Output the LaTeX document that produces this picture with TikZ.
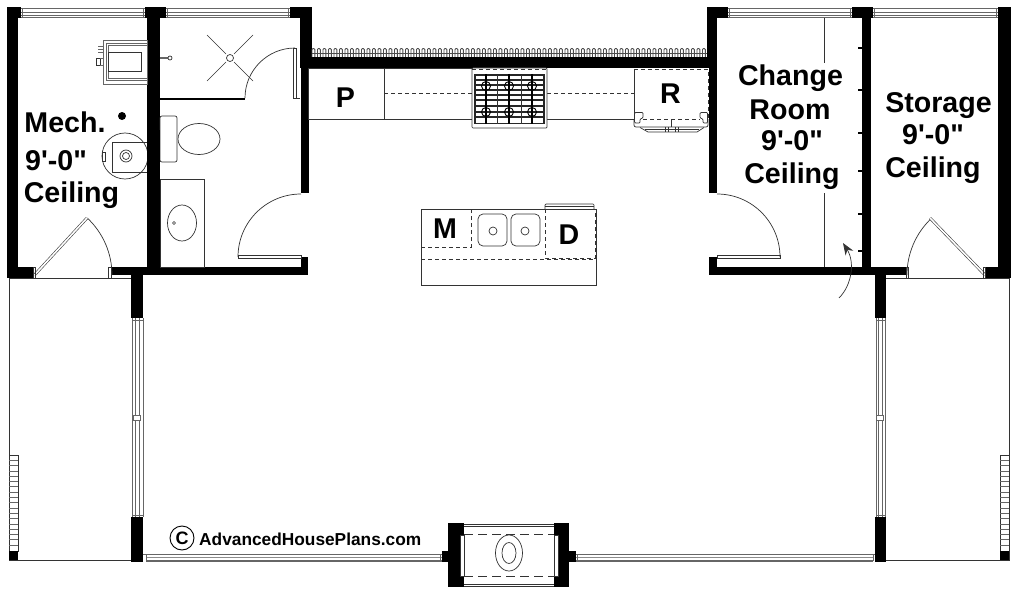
\documentclass[tikz,border=0pt]{standalone}
\usepackage{xcolor}
\usepackage{fontspec}
\newfontfamily\planfont{Liberation Sans}[Scale=1]
\usetikzlibrary{arrows.meta}

\begin{document}
\begin{tikzpicture}[x=1pt,y=-1pt,
  wall/.style={fill=black},
  fine/.style={draw=black!80,line width=0.7pt},
  glass/.style={draw=black!60,line width=0.8pt},
  hidden/.style={draw=black!80,line width=0.7pt,dash pattern=on 4pt off 3pt},
  leaf/.style={draw=black!75,double=white,double distance=1.6pt,line width=0.6pt},
  tag/.style={font=\planfont\bfseries\fontsize{28.6}{30}\selectfont,anchor=base,inner sep=0pt}]
\useasboundingbox (0,0) rectangle (1018,594);
\fill[white] (0,0) rectangle (1018,594);

% Porch outlines
\draw[fine] (9,278) -- (9,560) -- (132,560);
\draw[fine] (9,278) -- (132,278);
\draw[fine] (1009,278) -- (1009,560) -- (886,560);
\draw[fine] (886,278) -- (1009,278);

% Porch steps
\foreach \a/\b in {9/18,1000/1009}
{
  \draw[fine] (\a,455) rectangle (\b,551);
  \foreach \y in {460.3,465.6,...,548}
    \draw[glass] (\a,\y) -- (\b,\y);
  \fill[wall] (\a,551) rectangle (\b,560);
}

% Top windows
\foreach \a/\b in {21/145,166/290,728/852,873/998}
{
  \draw[glass] (\a,8) -- (\b,8);
  \draw[glass] (\a,12.5) -- (\b,12.5);
  \draw[glass] (\a,15) -- (\b,15);
  \draw[glass] (\a,17.5) -- (\b,17.5);
  \draw[glass] (\a+1.5,8) -- (\a+1.5,17.5);
  \draw[glass] (\b-1.5,8) -- (\b-1.5,17.5);
}

% Side windows
\foreach \a/\b/\c/\d in {132.5/135/139.5/143,876/878.5/882.5/885.5}
{
  \draw[glass] (\a,318) -- (\a,517);
  \draw[glass] (\b,318) -- (\b,517);
  \draw[glass] (\c,318) -- (\c,517);
  \draw[glass] (\d,318) -- (\d,517);
  \draw[glass] (\a,320.5) -- (\d,320.5);
  \draw[glass] (\a,515) -- (\d,515);
  \draw[glass,fill=white] (\b-2,415) rectangle (\c+0.5,420);
}

% Front windows
\foreach \a/\b in {146/442,576/873}
{
  \draw[glass,line width=0.6pt] (\a,554) -- (\b,554);
  \draw[glass,line width=1.6pt,draw=black!45] (\a,557.5) -- (\b,557.5);
  \draw[glass,line width=1.4pt] (\a,561) -- (\b,561);
}
\draw[glass] (143,554) -- (146,554) -- (146,561);
\draw[glass] (875,554) -- (873,554) -- (873,561);
\draw[glass] (440.5,554) -- (440.5,561);
\draw[glass] (577.5,554) -- (577.5,561);

% Walls
\foreach \a/\b/\c/\d in {7/7/18/278,7/7/21/18,7/267/33/278,145/7/166/18,147/7/160/275,
  112/267/308/275,131/275/143/318,131/517/143/562,290/7/312/18,301/7/309/193,300/7/311.5/68,
  301/257/308/275,308/57/717/68,707/7/728/18,709/7/717/193,707/7/717/57,709/257/717/275,709/267/906/275,
  852/7/873/18,862/7/871/275,875/275/886/318,875/517/886/562,986/267/1011/278,
  998/7/1011/278}
  \fill[wall] (\a,\b) rectangle (\c,\d);

% Backsplash
\draw[draw=black!70,line width=0.9pt] (312,53) -- (707,53);
\foreach \x in {312,317.5,...,704}
  \draw[draw=black!70,line width=0.9pt,rounded corners=1pt] (\x,57) -- (\x,48.5) -- (\x+2.8,48.5) -- (\x+2.8,57);

% Door swings
\draw[fine] (245,98) arc (180:270:50);
\draw[fine] (238,257) arc (180:270:63);
\draw[fine] (717,194) arc (270:360:63);
\draw[fine] (112,275) arc (0:-47:78);
\draw[fine] (907,275) arc (180:226:78);
\draw[leaf] (34.5,275) -- (87,218);
\draw[leaf] (985,275) -- (930,218);
\draw[fine] (293,48) rectangle (296,98);
\draw[fine] (296,98) -- (300,98);
\draw[fine] (238,255.5) -- (301,255.5) -- (301,258) -- (238,258) -- cycle;
\draw[fine] (717,255.5) -- (780,255.5) -- (780,258) -- (717,258) -- cycle;
\foreach \a/\b in {33/35,108.5/111,906/908,983/985}
  \draw[fine] (\a,267) rectangle (\b,278);
\draw[fine] (33,278) -- (111,278);
\draw[fine] (906,278) -- (985,278);

% Bath
\fill[wall] (160,98) rectangle (245,100);
\draw[fine] (207,35) -- (226,54);
\draw[fine] (253,35) -- (234,54);
\draw[fine] (207,81) -- (226,62);
\draw[fine] (253,81) -- (234,62);
\draw[fine] (230,58) circle (3.5);
\draw[glass,line width=1.4pt] (160,58) -- (168,58);
\draw[fine] (170,58) circle (2);
\draw[fine,rounded corners=2pt] (160,116) rectangle (177,162);
\draw[fine] (199,139) ellipse (21 and 15.5);
\draw[fine] (160,179) rectangle (204,267);
\draw[fine] (182,223) ellipse (14.5 and 18);
\draw[fine] (174,223) circle (1.5);

% Mech
\draw[glass,fill=white] (103,40) rectangle (147,84);
\draw[glass] (106,43) rectangle (147,80);
\draw[glass] (108,45.5) rectangle (147,78);
\draw[fine] (108,52) rectangle (141,71);
\draw[fine] (96,58) rectangle (100,65);
\draw[glass] (100,58) -- (103,58);
\draw[glass] (100,65) -- (103,65);
\foreach \y in {46,49,52}
  \draw[glass] (98,\y) -- (103,\y);
\fill[black] (122,116) circle (4);
\draw[fine] (125,156) circle (23);
\draw[fine] (112,142) rectangle (147,172);
\draw[fine] (126,156) circle (6);
\draw[fine] (126,156) circle (3.5);
\draw[fine] (102,152) rectangle (105,161);
\fill[wall] (147,130) rectangle (160,185);

% Counters
\draw[fine] (308,68) rectangle (472,119);
\draw[fine] (384,68) -- (384,119);
\draw[fine] (547,119) -- (634,119);
\draw[hidden] (384,93) -- (472,93);
\draw[hidden] (547,93) -- (634,93);

% Range
\draw[fine,fill=white,rounded corners=1pt] (472,68) rectangle (547,128);
\draw[hidden] (472,69) -- (547,69);
\draw[draw=black!85,line width=1.1pt] (475,75) rectangle (544,123.5);
\foreach \y in {80,85,90,95,100,106,112,117}
  \draw[draw=black!85,line width=1.2pt] (475,\y) -- (544,\y);
\foreach \x in {486,509,532}
  \draw[draw=black,line width=1.5pt] (\x,74) -- (\x,124);
\foreach \x in {497.5,521}
  \draw[draw=black!80,line width=1pt] (\x,75) -- (\x,123.5);
\foreach \x in {486,509,532}
  \foreach \y in {86,112}
    \draw[draw=black,line width=0.9pt] (\x,\y) circle (4.5);

% Refrigerator
\draw[fine] (634,69) -- (634,119);
\draw[hidden] (634,69) -- (708,69) -- (708,119);
\draw[hidden] (643,119) -- (700,119);
\draw[fine,rounded corners=2pt] (634,119) -- (634,127) -- (708,127) -- (708,119);
\draw[fine] (671.5,119) -- (671.5,127);
\draw[fine,fill=white,rounded corners=1pt] (634.5,112.5) -- (643,112.5) -- (643,118) -- (640,119) -- (640,123) -- (634.5,123) -- cycle;
\draw[fine,fill=white,rounded corners=1pt] (707.5,112.5) -- (700,112.5) -- (700,118) -- (703,119) -- (703,123) -- (707.5,123) -- cycle;
\draw[fine] (640,127.5) -- (648,132) -- (697,132) -- (704,127.5);
\draw[fine] (645,129.5) -- (699,129.5);
\foreach \x in {665,668.5,675,678.5}
  \draw[fine] (\x,127) -- (\x,132);

% Island
\draw[fine] (421,209) rectangle (596,285);
\draw[fine,rounded corners=1pt] (545,209) -- (545,204) -- (594,204) -- (594,209);
\draw[fine] (545,206) -- (594,206);
\draw[hidden] (421,247) -- (471,247) -- (471,209);
\draw[hidden] (421,259) -- (596,259);
\draw[hidden] (545,209) -- (545,258) -- (595,258) -- (595,209);
\foreach \a/\b/\d in {478/507/493,511/540/525}
{
  \draw[fine,rounded corners=5pt] (\a,214) rectangle (\b,246);
  \draw[fine] (\d,231) circle (4);
}

% Chimney
\draw[fine] (464,524) -- (554,524);
\draw[fine] (464,526.5) -- (554,526.5);
\draw[fine] (464,586) -- (554,586);
\draw[fine] (464,584) -- (554,584);
\draw[hidden,dash pattern=on 9pt off 5pt] (464,534.5) -- (554,534.5);
\draw[hidden,dash pattern=on 9pt off 5pt] (464,576) -- (554,576);
\foreach \a/\b/\c/\d in {448/523/464/587,554/523/569/587,442/551/448/562,569/551/576/562}
  \fill[wall] (\a,\b) rectangle (\c,\d);
\fill[white] (460,535) rectangle (464,576);
\fill[white] (554,535) rectangle (558,576);
\draw[fine] (460,535) rectangle (464,576);
\draw[fine] (554,535) rectangle (558,576);
\draw[fine] (509,553) ellipse (13.5 and 18);
\draw[fine] (509,553) ellipse (7 and 10.5);

% Room labels
\foreach \x/\y/\n/\l in {65/132/mecha/{Mech.},56/170/mechb/{9'-0"},71.5/202/mechc/{Ceiling},
  790.5/85/changea/{Change},790/119/changeb/{Room},792/150/changec/{9'-0"},792/183/changed/{Ceiling},
  938.5/112/storea/{Storage},933/144/storeb/{9'-0"},933/177/storec/{Ceiling},
  345.5/107/pantry/{P},670.5/103/range/{R},445/238/micro/{M},569/244/dish/{D}}
  \node[tag] (\n) at (\x,\y) {\l};

% Change room details
\draw[fine] (824,18) -- (824,63);
\draw[fine] (824,193) -- (824,267);
\foreach \y in {48,90,133,171,214,251}
  \draw[line width=1.2pt] (858,\y) -- (862,\y);
\coordinate (entrystart) at (839,298);
\coordinate (entryend) at (843,243);
\draw[-{Stealth[length=12pt,width=9pt]},fine] (entrystart) .. controls (852,285) and (855,262) .. (entryend);

% Copyright
\node[draw=black,line width=0.9pt,circle,minimum size=24pt,inner sep=0pt,
  font=\planfont\bfseries\fontsize{18}{20}\selectfont] (copymark) at (182,538) {C};
\node[right=0pt,inner sep=0pt,font=\planfont\bfseries\fontsize{17.3}{20}\selectfont] (copytext) at (199,539) {AdvancedHousePlans.com};
\end{tikzpicture}
\end{document}
